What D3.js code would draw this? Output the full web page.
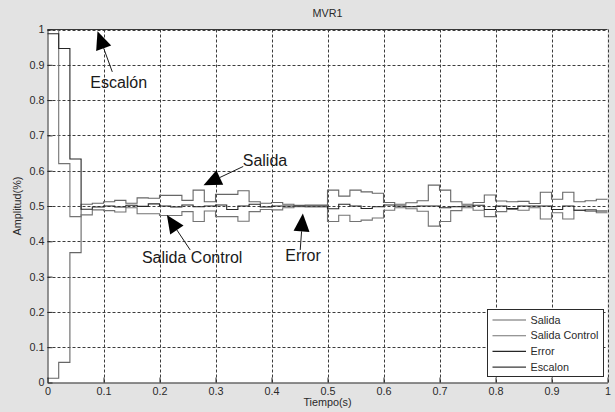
<!DOCTYPE html>
<html>
<head>
<meta charset="utf-8">
<script src="https://cdn.jsdelivr.net/npm/d3@7"></script>
<style>
html,body{margin:0;padding:0;background:#e3e3e3;}
svg{display:block;font-family:"Liberation Sans",Arial,sans-serif;}
</style>
</head>
<body>
<svg id="chart" width="615" height="412"></svg>
<script>
// ---- data ----
const tiempo = [0,0.02,0.04,0.06,0.08,0.10,0.12,0.14,0.16,0.18,0.20,0.22,0.24,0.26,0.28,0.30,0.32,0.34,0.36,0.38,
  0.40,0.42,0.44,0.46,0.48,0.50,0.52,0.54,0.56,0.58,0.60,0.62,0.64,0.66,0.68,0.70,0.72,0.74,0.76,0.78,
  0.80,0.82,0.84,0.86,0.88,0.90,0.92,0.94,0.96,0.98,1.00];
const salida = [0.012,0.057,0.368,0.505,0.508,0.512,0.516,0.508,0.523,0.522,0.530,0.530,0.516,0.545,0.512,0.533,0.533,0.543,0.512,0.508,
  0.510,0.505,0.502,0.503,0.503,0.545,0.528,0.545,0.540,0.536,0.510,0.505,0.509,0.515,0.559,0.545,0.512,0.505,0.510,0.531,
  0.514,0.512,0.513,0.507,0.539,0.519,0.539,0.512,0.515,0.519];
const salidaControl = [1.000,0.620,0.470,0.475,0.489,0.487,0.483,0.495,0.478,0.478,0.473,0.473,0.484,0.456,0.486,0.470,0.470,0.457,0.484,0.490,
  0.489,0.495,0.498,0.497,0.497,0.456,0.474,0.456,0.460,0.466,0.488,0.495,0.492,0.485,0.443,0.456,0.487,0.495,0.488,0.470,
  0.484,0.490,0.488,0.495,0.463,0.481,0.463,0.488,0.490,0.481];
const errorSerie = [0.988,0.946,0.633,0.491,0.497,0.500,0.497,0.502,0.499,0.506,0.500,0.497,0.503,0.498,0.500,0.503,0.490,0.500,0.505,0.497,
  0.500,0.500,0.500,0.500,0.500,0.492,0.505,0.500,0.493,0.498,0.503,0.500,0.498,0.500,0.500,0.495,0.498,0.500,0.502,0.490,
  0.500,0.493,0.500,0.500,0.500,0.490,0.500,0.488,0.486,0.486];
const escalon = [1,1,1,1,1,1,1,1,1,1,1,1,1,1,1,1,1,1,1,1,1,1,1,1,1,1,1,1,1,1,1,1,1,1,1,1,1,1,1,1,1,1,1,1,1,1,1,1,1,1];
const seriesNames = ["Salida","Salida Control","Error","Escalon"];
const xTicks = [0,0.1,0.2,0.3,0.4,0.5,0.6,0.7,0.8,0.9,1];
const xTickLabels = ["0","0.1","0.2","0.3","0.4","0.5","0.6","0.7","0.8","0.9","1"];
const yTicks = [0,0.1,0.2,0.3,0.4,0.5,0.6,0.7,0.8,0.9,1];
const yTickLabels = ["0","0.1","0.2","0.3","0.4","0.5","0.6","0.7","0.8","0.9","1"];
const annotLabels = ["Escalón","Salida","Salida Control","Error"];
const annotTextPos = [[0.0763,0.835],[0.3486,0.613],[0.1686,0.338],[0.4245,0.345]];
const annotTail = [[0.1157,0.880],[0.3495,0.612],[0.2548,0.3755],[0.4513,0.3755]];
const annotTip = [[0.0893,0.995],[0.2786,0.559],[0.2132,0.4745],[0.456,0.479]];

// ---- layout / style ----
const colors = ["#666666","#737373","#262626","#383838"];
const svg = d3.select("#chart");
const x = d3.scaleLinear().domain([0,1]).range([47.5,607.5]);
const y = d3.scaleLinear().domain([0,1]).range([382.5,29.5]);
const ink = "#2a2a2a";

svg.append("rect").attr("width",615).attr("height",412).attr("fill","#e3e3e3");
svg.append("rect").attr("x",x(0)).attr("y",y(1)).attr("width",x(1)-x(0)).attr("height",y(0)-y(1)).attr("fill","#ffffff");

// grid
const grid = svg.append("g").attr("stroke","#3c3c3c").attr("stroke-width",1).attr("stroke-dasharray","3,2").attr("fill","none");
xTicks.filter(d=>d>0).forEach(d=>{
  grid.append("line").attr("x1",Math.round(x(d))+0.5).attr("x2",Math.round(x(d))+0.5).attr("y1",y(0)).attr("y2",y(1));
});
yTicks.filter(d=>d>0).forEach(d=>{
  grid.append("line").attr("y1",Math.round(y(d))+0.5).attr("y2",Math.round(y(d))+0.5).attr("x1",x(0)).attr("x2",x(1));
});

// series (stairs)
const allSeries = [salida,salidaControl,errorSerie,escalon];
const line = d3.line().x(d=>x(d[0])).y(d=>y(d[1])).curve(d3.curveStepAfter);
allSeries.forEach((vals,k)=>{
  const pts = vals.map((v,i)=>[tiempo[i],v]);
  pts.push([tiempo[vals.length],vals[vals.length-1]]);
  svg.append("path").attr("d",line(pts)).attr("fill","none").attr("stroke",colors[k]).attr("stroke-width",1.1);
});

// axes
const xAxis = d3.axisBottom(x).tickValues(xTicks).tickFormat((d,i)=>xTickLabels[i]).tickSizeInner(-5).tickSizeOuter(0).tickPadding(5);
const yAxis = d3.axisLeft(y).tickValues(yTicks).tickFormat((d,i)=>yTickLabels[i]).tickSizeInner(-5).tickSizeOuter(0).tickPadding(3);
const gx = svg.append("g").attr("transform",`translate(0,${y(0)})`).call(xAxis);
const gy = svg.append("g").attr("transform",`translate(${x(0)},0)`).call(yAxis);
[gx,gy].forEach(g=>{
  g.selectAll("path,line").attr("stroke",ink);
  g.selectAll("text").attr("fill",ink).style("font-size","10.8px").style("font-family","'Liberation Sans',Arial,sans-serif");
});

// titles
svg.append("text").attr("x",(x(0)+x(1))/2).attr("y",17).attr("text-anchor","middle").attr("fill",ink).style("font-size","10.8px").text("MVR1");
svg.append("text").attr("x",(x(0)+x(1))/2).attr("y",406).attr("text-anchor","middle").attr("fill",ink).style("font-size","10.8px").text("Tiempo(s)");
svg.append("text").attr("transform",`translate(21,${(y(0)+y(1))/2}) rotate(-90)`).attr("text-anchor","middle").attr("fill",ink).style("font-size","10.8px").text("Amplitud(%)");

// annotations
annotLabels.forEach((lab,i)=>{
  svg.append("text").attr("x",x(annotTextPos[i][0])).attr("y",y(annotTextPos[i][1])).attr("fill","#1a1a1a").style("font-size","16px").text(lab);
  const tx = x(annotTail[i][0]), ty = y(annotTail[i][1]);
  const px = x(annotTip[i][0]), py = y(annotTip[i][1]);
  const dx = px-tx, dy = py-ty, len = Math.hypot(dx,dy), ux = dx/len, uy = dy/len;
  const hl = 18, hw = 8;
  const bx = px-ux*hl, by = py-uy*hl;
  svg.append("line").attr("x1",tx).attr("y1",ty).attr("x2",bx).attr("y2",by).attr("stroke","#1a1a1a").attr("stroke-width",1);
  svg.append("path").attr("d",`M${px},${py}L${bx-uy*hw},${by+ux*hw}L${bx+uy*hw},${by-ux*hw}Z`).attr("fill","#000");
});

// legend
const lg = svg.append("g");
lg.append("rect").attr("x",487.5).attr("y",309.5).attr("width",116).attr("height",67).attr("fill","#fff").attr("stroke",ink).attr("stroke-width",1);
seriesNames.forEach((n,i)=>{
  const yy = 320 + i*15.7;
  lg.append("line").attr("x1",492.5).attr("x2",526).attr("y1",yy).attr("y2",yy).attr("stroke",colors[i]).attr("stroke-width",1.1);
  lg.append("text").attr("x",530.5).attr("y",yy).attr("dy","0.35em").attr("fill",ink).style("font-size","10.8px").text(n);
});
</script>
</body>
</html>
